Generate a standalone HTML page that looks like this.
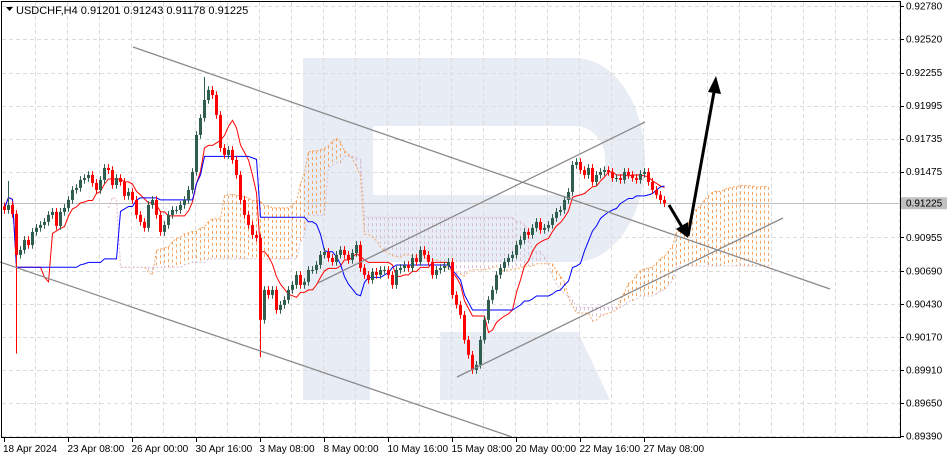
<!DOCTYPE html>
<html><head><meta charset="utf-8"><style>
body{margin:0;background:#fff;}
svg{display:block;font-family:"Liberation Sans",sans-serif;}
</style></head><body>
<svg id="chart" width="948" height="459" viewBox="0 0 948 459">
<rect x="0" y="0" width="948" height="459" fill="#fff"/>
<g fill="#e8ecf4">
<path fill-rule="evenodd" d="M303,58 H575 A70,102 0 0 1 575,262 H370 V400 H303 Z M373,126 V195 H575 A30,34 0 0 0 575,126 Z"/>
<polygon points="440,332 578,332 610,400 440,400"/>
</g>
<g id="grid"></g>
<g id="cloud"></g>
<g id="lines"></g>
<g id="candles"></g>
<g stroke="#8a8a8a" stroke-width="1.3" fill="none">
<line x1="133" y1="47" x2="830" y2="289"/>
<line x1="0" y1="262" x2="512" y2="437"/>
<line x1="318" y1="283" x2="645" y2="122"/>
<line x1="457" y1="377" x2="783" y2="218"/>
</g>
<g stroke="#000" stroke-width="3" fill="#000">
<line x1="669" y1="205" x2="682" y2="227"/>
<polygon points="676,229 688,238 688,222" stroke="none"/>
<line x1="688" y1="236" x2="714" y2="92"/>
<polygon points="708,92 716,76 721,94" stroke="none"/>
</g>
<g id="frame">
<line x1="1.5" y1="1" x2="1.5" y2="438" stroke="#000"/>
<line x1="1" y1="1.5" x2="901" y2="1.5" stroke="#000"/>
<line x1="900.5" y1="1" x2="900.5" y2="438" stroke="#000"/>
<line x1="1" y1="437.5" x2="901" y2="437.5" stroke="#000"/>
</g>
<g id="yaxis" font-size="10" fill="#000"></g>
<g id="xaxis" font-size="10" fill="#000"></g>
<text x="16" y="14" font-size="11" fill="#000">USDCHF,H4  0.91201 0.91243 0.91178 0.91225</text>
<polygon points="6,7 13,7 9.5,11" fill="#000"/>
</svg>
<script>
const closes=[0.91172,0.91212,0.91141,0.90818,0.90857,0.90936,0.90896,0.90999,
0.91031,0.91054,0.91078,0.91133,0.91157,0.91046,0.91157,0.91188,
0.91251,0.91330,0.91346,0.91409,0.91424,0.91448,0.91385,0.91330,
0.91409,0.91503,0.91487,0.91369,0.91424,0.91393,0.91283,0.91314,
0.91251,0.91133,0.91078,0.91031,0.91212,0.91251,0.91133,0.90999,
0.91054,0.91133,0.91172,0.91172,0.91212,0.91251,0.91330,0.91472,
0.91763,0.91897,0.92039,0.92118,0.92078,0.91921,0.91661,0.91606,
0.91645,0.91566,0.91448,0.91251,0.91133,0.91054,0.90975,0.90952,
0.90306,0.90542,0.90502,0.90542,0.90384,0.90424,0.90463,0.90542,
0.90581,0.90660,0.90581,0.90605,0.90699,0.90699,0.90739,0.90818,
0.90841,0.90794,0.90762,0.90818,0.90857,0.90818,0.90778,0.90833,
0.90896,0.90715,0.90660,0.90621,0.90684,0.90660,0.90699,0.90699,
0.90660,0.90581,0.90699,0.90715,0.90739,0.90715,0.90794,0.90762,
0.90857,0.90818,0.90762,0.90660,0.90699,0.90715,0.90731,0.90762,
0.90502,0.90424,0.90345,0.90148,0.90030,0.89911,0.89951,0.90148,
0.90306,0.90463,0.90542,0.90660,0.90715,0.90762,0.90794,0.90818,
0.90896,0.90936,0.90999,0.90975,0.91031,0.91078,0.91015,0.91031,
0.91054,0.91109,0.91157,0.91172,0.91251,0.91314,0.91527,0.91550,
0.91487,0.91448,0.91503,0.91393,0.91448,0.91472,0.91487,0.91472,
0.91424,0.91424,0.91409,0.91472,0.91448,0.91424,0.91409,0.91456,
0.91472,0.91393,0.91330,0.91291,0.91251,0.91225];
const firstOpen=0.91201;
const wickIdx=[3,50,64,117,118,1];
const wickPrice=[0.90040,0.92220,0.90010,0.89880,0.89890,0.91400];
const priceTicks=[0.92780,0.92520,0.92255,0.91995,0.91735,0.91475,0.90955,0.90690,0.90430,0.90170,0.89910,0.89650,0.89390];
const lastPrice=0.91225;
const timeLabels=["18 Apr 2024","23 Apr 08:00","26 Apr 00:00","30 Apr 16:00","3 May 08:00","8 May 00:00","10 May 16:00","15 May 08:00","20 May 00:00","22 May 16:00","27 May 08:00"];
const timeLabelBars=[0,16,32,48,64,80,96,112,128,144,160];

const NS="http://www.w3.org/2000/svg";
const pTop=0.92780,pBot=0.89390,yTop=6,yBot=436;
function yS(p){return yTop+(pTop-p)/(pTop-pBot)*(yBot-yTop);}
function xS(i){return 4+i*4+0.5;}
function mk(tag,attrs,parent){const e=document.createElementNS(NS,tag);for(const k in attrs)e.setAttribute(k,attrs[k]);parent.appendChild(e);return e;}

const grid=document.getElementById('grid');
for(let x=35;x<900;x+=32){const l=mk('line',{x1:x+0.5,y1:2,x2:x+0.5,y2:437,stroke:'#dcdcdc','stroke-dasharray':'4,3'},grid);

}
const yax=document.getElementById('yaxis');
priceTicks.forEach(p=>{const y=yS(p);
const l=mk('line',{x1:2,y1:Math.round(y)+0.5,x2:900,y2:Math.round(y)+0.5,stroke:'#dcdcdc','stroke-dasharray':'4,3'},grid);


const t=mk('line',{x1:900,y1:Math.round(y)+0.5,x2:904,y2:Math.round(y)+0.5,stroke:'#000'},yax);


const tx=mk('text',{x:906,y:y+3.5},yax);tx.textContent=p.toFixed(5);

});
{const y=yS(lastPrice);
const l=mk('line',{x1:2,y1:Math.round(y)+0.5,x2:900,y2:Math.round(y)+0.5,stroke:'#c0c0c0'},grid);


const r=mk('rect',{x:901,y:y-6,width:46,height:12,fill:'#c0c0c0'},yax);


const tx=mk('text',{x:906,y:y+3.5},yax);tx.textContent=lastPrice.toFixed(5);

}
const xax=document.getElementById('xaxis');
timeLabels.forEach((s,k)=>{const x=xS(timeLabelBars[k]);
const t=mk('line',{x1:x,y1:437,x2:x,y2:442,stroke:'#000'},xax);


const tx=mk('text',{x:k===0?3:x-1,y:452},xax);tx.textContent=s;

});

// OHLC
const N=closes.length,O=[],H=[],L=[];
for(let i=0;i<N;i++){const o=i?closes[i-1]:firstOpen;O.push(o);
let h=Math.max(o,closes[i])+0.00030,l=Math.min(o,closes[i])-0.00030;
const w=wickIdx.indexOf(i);if(w>=0){if(wickPrice[w]>h)h=wickPrice[w];if(wickPrice[w]<l)l=wickPrice[w];}
H.push(h);L.push(l);}
const cg=document.getElementById('candles');
for(let i=0;i<N;i++){const x=xS(i),bull=closes[i]>=O[i],col=bull?'#2f5e4f':'#ff0000';
const g=mk('g',{},cg);


mk('line',{x1:x,y1:yS(H[i]),x2:x,y2:yS(L[i]),stroke:col},g);
const yt=yS(Math.max(O[i],closes[i])),yb=yS(Math.min(O[i],closes[i]));
mk('rect',{x:x-1.5,y:yt,width:3,height:Math.max(1,yb-yt),fill:col},g);}

// Ichimoku
function mid(a,b){let h=-1,l=9;for(let j=Math.max(0,a);j<=b;j++){h=Math.max(h,H[j]);l=Math.min(l,L[j]);}return (h+l)/2;}
const ten=[],kij=[],sA=[],sB=[];
for(let i=0;i<N;i++){ten.push(mid(i-8,i));kij.push(mid(i-25,i));sA.push((ten[i]+kij[i])/2);sB.push(mid(i-51,i));}
function poly(arr,off,col,name,dash){let d='';arr.forEach((v,i)=>{d+=(i?'L':'M')+xS(i+off)+','+yS(v).toFixed(1);});
const p=mk('path',{d:d,fill:'none',stroke:col,'stroke-width':1,'stroke-dasharray':dash||''},document.getElementById(dash?'cloud':'lines'));

}
const cl=document.getElementById('cloud');
for(let i=0;i<N;i++){const x=xS(i+26),a=yS(sA[i]),b=yS(sB[i]);
const c=mk('line',{x1:x,y1:Math.min(a,b),x2:x,y2:Math.max(a,b),stroke:sA[i]>=sB[i]?'#f4a460':'#d8bfd8','stroke-dasharray':'3,3'},cl);

}
poly(sA,26,'#f4a460','senkou-span-a','2,2');
poly(sB,26,'#d8bfd8','senkou-span-b','2,2');
poly(ten,0,'#ff0000','tenkan-sen');
poly(kij,0,'#0000ff','kijun-sen');
</script>
</body></html>
